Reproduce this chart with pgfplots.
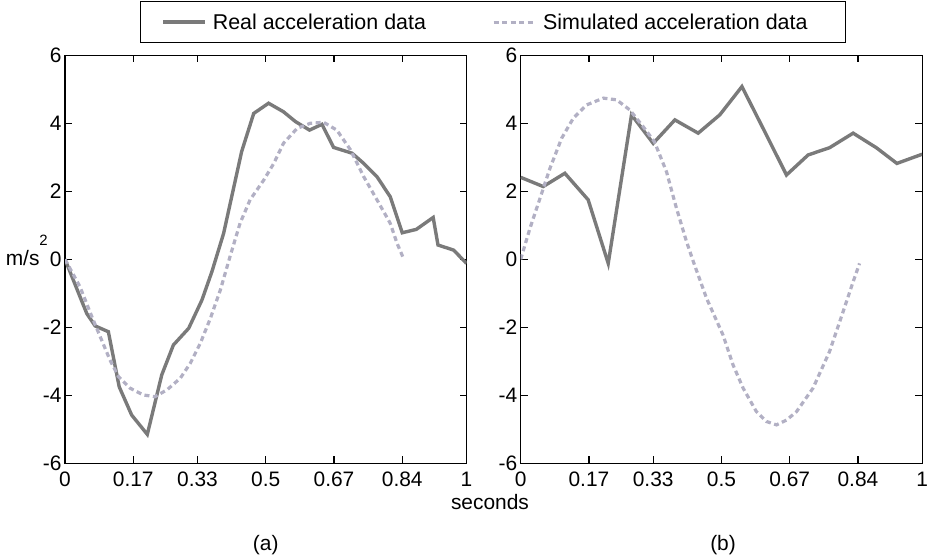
\documentclass[border=0pt]{standalone}
\usepackage{fontspec}
\setmainfont{Liberation Sans}
\usepackage{pgfplots}
\pgfplotsset{compat=1.18}

\definecolor{realgray}{HTML}{7A7A7A}
\definecolor{simgray}{HTML}{B2B0C4}

\pgfplotsset{
  accplot/.style={
    scale only axis,
    width=401.5bp, height=408bp,
    xmin=0, xmax=1, ymin=-6, ymax=6,
    clip mode=individual,
    xtick={0,0.17,0.33,0.5,0.67,0.84,1},
    xticklabels={0,0.17,0.33,0.5,0.67,0.84,1},
    ytick={-6,-4,-2,0,2,4,6},
    yticklabels={-6,-4,-2,0,2,4,6},
    tick align=inside,
    major tick length=7bp,
    axis line style={line width=1.3bp},
    every tick/.style={black, line width=1.2bp},
    tick label style={font=\fontsize{21}{25}\selectfont},
    xticklabel style={yshift=-5bp},
    yticklabel style={xshift=0bp},
    legend image code/.code={\draw[##1] (0bp,0bp) -- (42bp,0bp);},
  },
  realline/.style={realgray, line width=3.4bp, line join=miter},
  simline/.style={simgray, line width=3.2bp, dash pattern=on 5bp off 3.5bp},
}

\begin{document}
\begin{tikzpicture}
\path[use as bounding box] (0,0) rectangle (927bp,556bp);

% ---- (a) ----
\begin{axis}[accplot,
    at={(65bp,92.7bp)}, anchor=south west,
    ylabel={m/s\raisebox{0.95em}{\fontsize{15}{15}\selectfont 2}},
    ylabel style={rotate=-90, font=\fontsize{21}{25}\selectfont, inner sep=0pt,
                  at={(axis description cs:0,0.5)}, anchor=base east,
                  xshift=-17bp, yshift=-6bp},
    legend columns=2,
    legend style={draw=black, line width=1.3bp, fill=white,
                  at={(axis description cs:1.066,1.133)}, anchor=north,
                  font=\fontsize{21.5}{25}\selectfont,
                  inner xsep=21bp, inner ysep=10bp,
                  /tikz/every odd column/.append style={column sep=4bp},
                  /tikz/every even column/.append style={column sep=64bp}},
]
\addplot[realline] coordinates {
  (0,0) (0.054,-1.59) (0.075,-1.96) (0.108,-2.13) (0.135,-3.75) (0.166,-4.58)
  (0.205,-5.15) (0.241,-3.40) (0.270,-2.52) (0.308,-2.03) (0.341,-1.20)
  (0.366,-0.36) (0.395,0.76) (0.440,3.17) (0.470,4.29) (0.507,4.59)
  (0.544,4.34) (0.574,4.05) (0.609,3.80) (0.640,3.97) (0.669,3.29)
  (0.715,3.12) (0.744,2.82) (0.777,2.43) (0.810,1.84) (0.840,0.78)
  (0.875,0.88) (0.917,1.23) (0.929,0.42) (0.968,0.27) (1.0,-0.12)
};
\addlegendentry{Real acceleration data}
\addplot[simline] coordinates {
  (0,0) (0.037,-0.80) (0.067,-1.69) (0.091,-2.37) (0.112,-2.96) (0.133,-3.45)
  (0.162,-3.79) (0.195,-3.99) (0.224,-4.04) (0.254,-3.84) (0.287,-3.50)
  (0.312,-3.06) (0.337,-2.47) (0.362,-1.74) (0.387,-0.90) (0.411,0.08)
  (0.436,1.06) (0.461,1.75) (0.495,2.33) (0.520,2.82) (0.544,3.41)
  (0.578,3.85) (0.611,4.00) (0.644,4.03) (0.677,3.80) (0.711,3.22)
  (0.744,2.43) (0.777,1.75) (0.810,1.06) (0.827,0.47) (0.844,0)
};
\addlegendentry{Simulated acceleration data\hspace*{15bp}}
\node[font=\fontsize{21}{25}\selectfont, anchor=north, inner sep=0pt]
  at (axis description cs:1.0585,0) [yshift=-31bp] {seconds};
\node[font=\fontsize{21}{25}\selectfont, anchor=center, inner sep=0pt]
  at (axis description cs:0.5,0) [yshift=-82bp] {(a)};
\end{axis}

% ---- (b) ----
\begin{axis}[accplot,
    at={(520.7bp,92.7bp)}, anchor=south west,
]
\addplot[realline] coordinates {
  (0,2.41) (0.056,2.14) (0.110,2.53) (0.168,1.75) (0.218,-0.12) (0.276,4.25)
  (0.330,3.41) (0.384,4.10) (0.442,3.71) (0.496,4.25) (0.551,5.08)
  (0.608,3.75) (0.662,2.48) (0.716,3.07) (0.769,3.28) (0.828,3.71)
  (0.886,3.28) (0.937,2.82) (1.0,3.09)
};
\addplot[simline] coordinates {
  (0,0) (0.023,0.91) (0.048,1.79) (0.073,2.68) (0.102,3.56) (0.131,4.15)
  (0.164,4.54) (0.206,4.74) (0.239,4.69) (0.272,4.39) (0.305,3.90)
  (0.333,3.46) (0.363,2.58) (0.388,1.50) (0.413,0.52) (0.430,-0.07)
  (0.463,-1.15) (0.504,-2.23) (0.529,-3.11) (0.554,-3.79) (0.587,-4.48)
  (0.612,-4.77) (0.637,-4.87) (0.662,-4.73) (0.687,-4.48) (0.728,-3.79)
  (0.769,-2.72) (0.803,-1.54) (0.828,-0.66) (0.844,-0.12)
};
\node[font=\fontsize{21}{25}\selectfont, anchor=center, inner sep=0pt]
  at (axis description cs:0.504,0) [yshift=-82bp] {(b)};
\end{axis}
\end{tikzpicture}
\end{document}
